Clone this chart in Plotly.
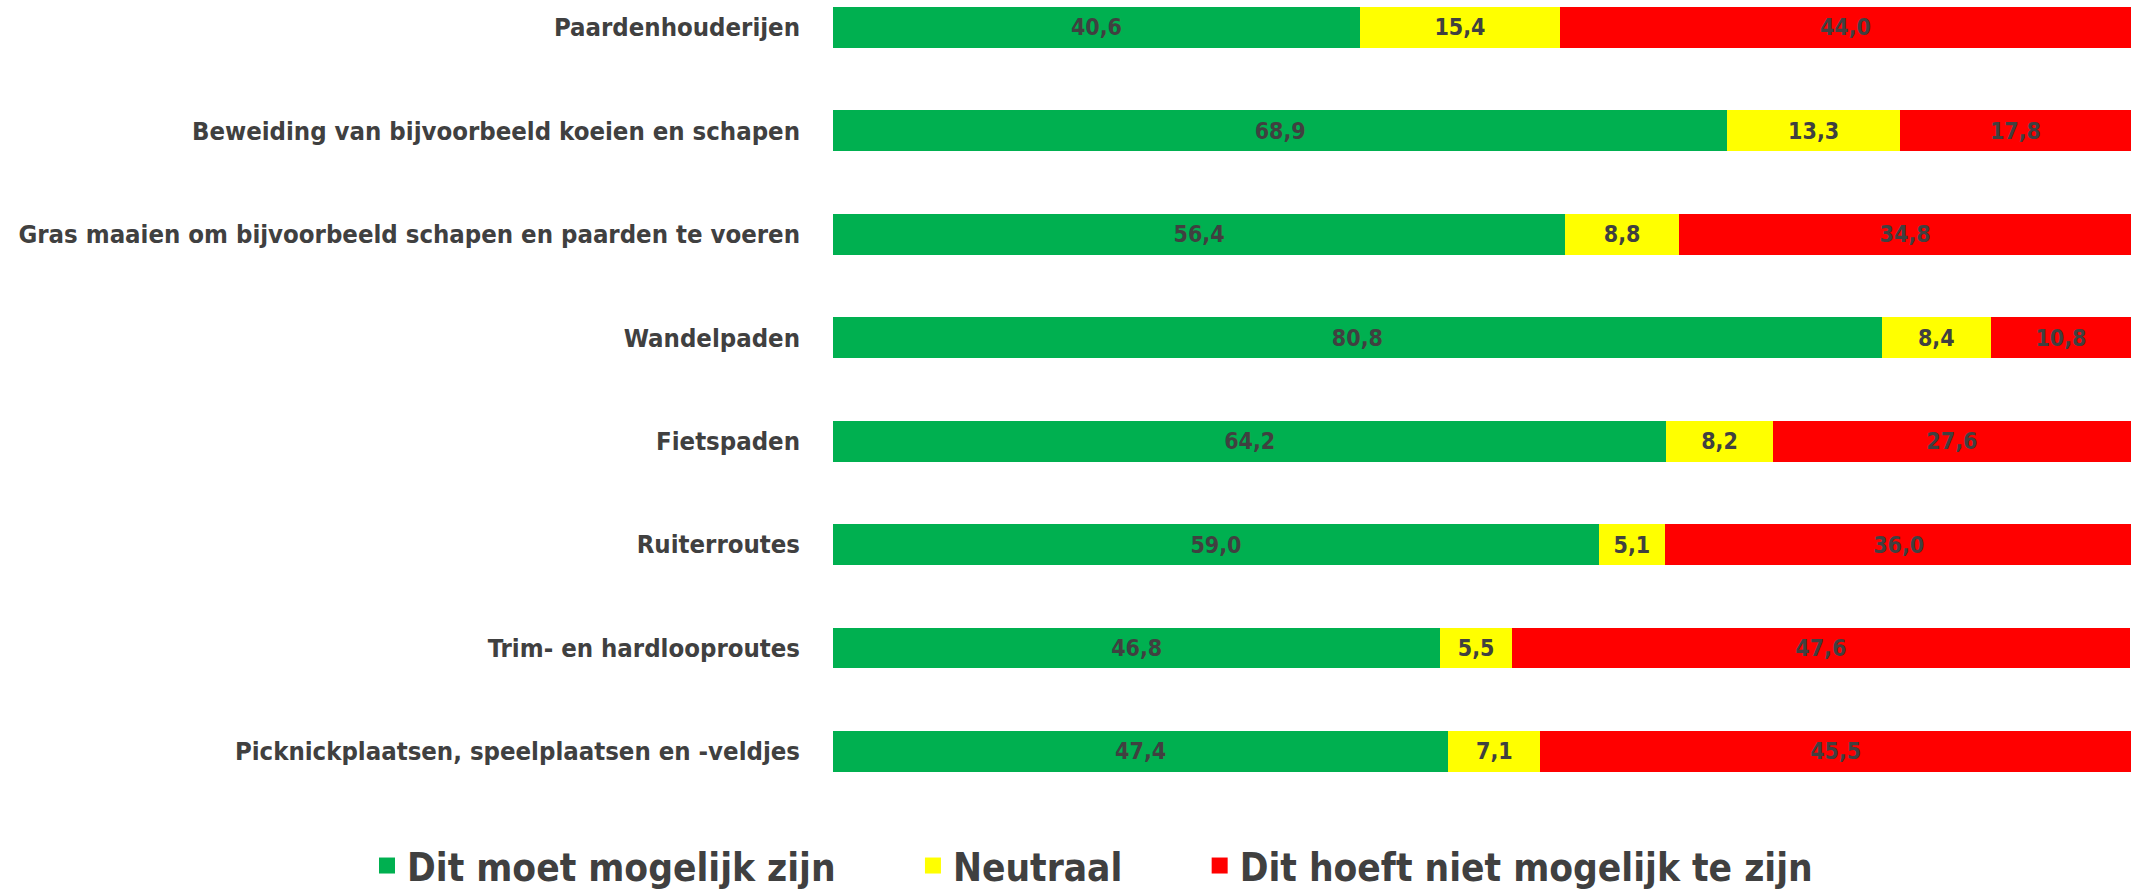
import plotly.graph_objects as go

categories = [
    "Paardenhouderijen",
    "Beweiding van bijvoorbeeld koeien en schapen",
    "Gras maaien om bijvoorbeeld schapen en paarden te voeren",
    "Wandelpaden",
    "Fietspaden",
    "Ruiterroutes",
    "Trim- en hardlooproutes",
    "Picknickplaatsen, speelplaatsen en -veldjes",
]
moet = [40.6, 68.9, 56.4, 80.8, 64.2, 59.0, 46.8, 47.4]
neutraal = [15.4, 13.3, 8.8, 8.4, 8.2, 5.1, 5.5, 7.1]
hoeft_niet = [44.0, 17.8, 34.8, 10.8, 27.6, 36.0, 47.6, 45.5]

series_names = ["Dit moet mogelijk zijn", "Neutraal", "Dit hoeft niet mogelijk te zijn"]
series_values = [moet, neutraal, hoeft_niet]
colors = ["#00B050", "#FFFF00", "#FF0000"]

FONT = "DejaVu Sans Condensed, Liberation Sans Narrow, sans-serif"
TEXT_COLOR = "#404040"

fig = go.Figure()
for name, vals, col in zip(series_names, series_values, colors):
    fig.add_trace(go.Bar(
        y=categories, x=vals, orientation="h", name=name,
        marker=dict(color=col, line=dict(width=0)),
        texttemplate="%{x:.1f}", textposition="inside", insidetextanchor="middle",
        textangle=0, constraintext="none",
        textfont=dict(family=FONT, size=23, color=TEXT_COLOR, weight="bold"),
        showlegend=False, hoverinfo="skip",
    ))
for name, col in zip(series_names, colors):
    fig.add_trace(go.Scatter(
        x=[None], y=[None], mode="markers", name=name + "\u00a0" * 6,
        marker=dict(symbol="square", size=22, color=col),
        showlegend=True, hoverinfo="skip",
    ))

fig.update_layout(
    width=2131, height=894,
    barmode="stack", bargap=0.605,
    separators=",.",
    paper_bgcolor="white", plot_bgcolor="white",
    margin=dict(l=833, r=0, t=0, b=94, autoexpand=False),
    font=dict(family=FONT, color=TEXT_COLOR),
    xaxis=dict(range=[0, 100], visible=False, fixedrange=True),
    yaxis=dict(
        type="category", range=[7.47, -0.265], showgrid=False, zeroline=False,
        showline=False, ticks="", ticklabelstandoff=32, automargin=False,
        fixedrange=True,
        tickfont=dict(family=FONT, size=25.5, color=TEXT_COLOR, weight="bold"),
    ),
    legend=dict(
        orientation="h", traceorder="normal",
        x=-0.359, xanchor="left", y=-0.0825, yanchor="middle",
        itemsizing="trace",
        font=dict(family=FONT, size=38.5, color=TEXT_COLOR, weight="bold"),
    ),
)

fig.write_html("out.html", config={"displayModeBar": False},
               post_script="document.body.style.margin='0';")
